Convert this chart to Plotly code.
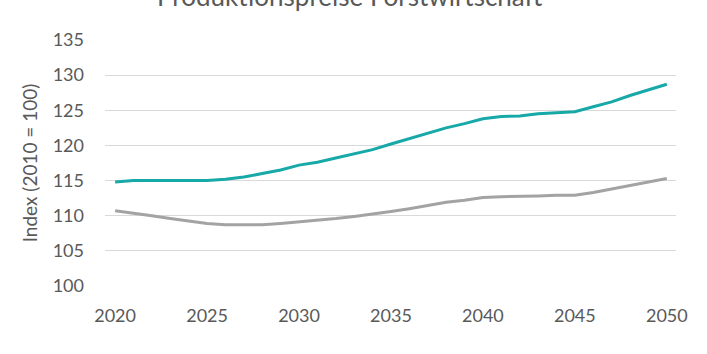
import plotly.graph_objects as go

years = list(range(2020, 2051))
teal_vals = [114.8, 115.0, 115.0, 115.0, 115.0, 115.0, 115.2, 115.5, 116.0, 116.5,
             117.2, 117.6, 118.2, 118.8, 119.4, 120.2, 121.0, 121.8, 122.5, 123.1,
             123.8, 124.1, 124.2, 124.5, 124.6, 124.8, 125.5, 126.2, 127.1, 127.9, 128.7]
gray_vals = [110.7, 110.4, 110.0, 109.6, 109.2, 108.9, 108.7, 108.7, 108.7, 108.9,
             109.1, 109.3, 109.6, 109.9, 110.2, 110.6, 111.0, 111.5, 111.9, 112.2,
             112.6, 112.7, 112.7, 112.8, 112.9, 112.9, 113.3, 113.8, 114.3, 114.8, 115.3]
series_names = ["Klimaschutzszenario", "Referenzszenario"]
title_text = "Produktionspreise Forstwirtschaft"
y_title = "Index (2010 = 100)"
x_ticks = [2020, 2025, 2030, 2035, 2040, 2045, 2050]
y_ticks = [100, 105, 110, 115, 120, 125, 130, 135]

FONT = "Lato"
TXT = "#595959"

fig = go.Figure()
fig.add_trace(go.Scatter(x=years, y=teal_vals, mode="lines", name=series_names[0],
                         line=dict(color="#17A8A8", width=3)))
fig.add_trace(go.Scatter(x=years, y=gray_vals, mode="lines", name=series_names[1],
                         line=dict(color="#A3A3A3", width=3)))

fig.update_layout(
    width=707, height=354,
    margin=dict(l=105, r=31, t=40, b=68, autoexpand=False),
    paper_bgcolor="white", plot_bgcolor="white",
    font=dict(family=FONT, color=TXT, size=17),
    showlegend=True,
    legend=dict(orientation="h", x=0.43, xanchor="center", y=-0.255, yanchor="top",
                font=dict(size=17, color=TXT)),
    annotations=[dict(text=title_text, xref="paper", yref="paper", x=(350 - 105) / 571,
                      y=1 + 44 / 246, yanchor="middle", showarrow=False,
                      font=dict(size=26, color=TXT, family=FONT))],
)
fig.update_xaxes(range=[2019.45, 2050.5], tickvals=x_ticks, showgrid=False,
                 zeroline=False, showline=False, ticks="", ticklabelstandoff=17,
                 tickfont=dict(size=18, color=TXT))
fig.update_yaxes(range=[100, 135], tickvals=y_ticks, showgrid=True,
                 gridcolor="#D9D9D9", gridwidth=1, zeroline=False, showline=False,
                 ticks="", ticklabelstandoff=20,
                 tickfont=dict(size=18, color=TXT),
                 title=dict(text=y_title, font=dict(size=19, color=TXT), standoff=10))

fig.write_html("out.html")
